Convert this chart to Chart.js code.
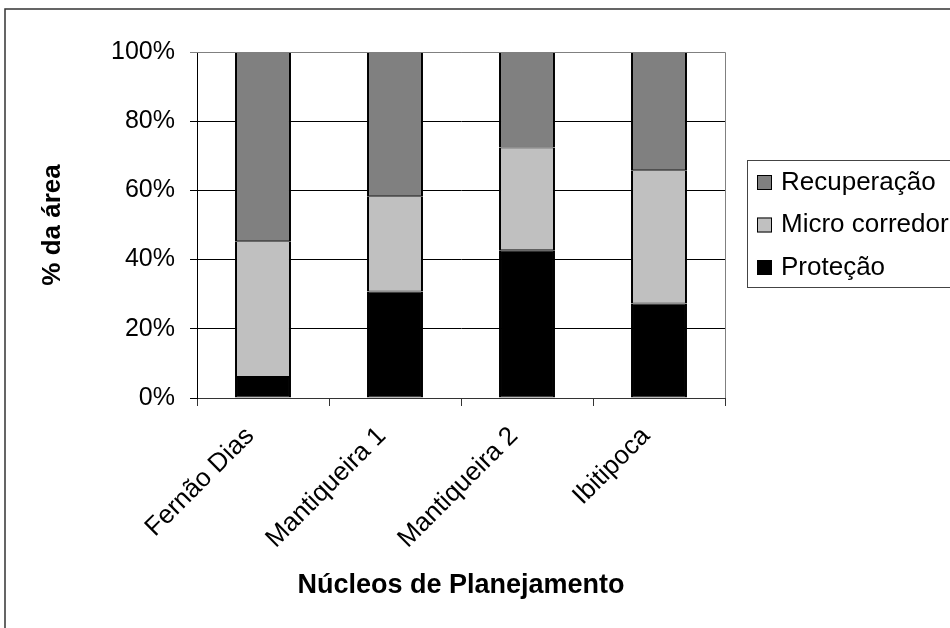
<!DOCTYPE html>
<html>
<head>
<meta charset="utf-8">
<script src="https://cdn.jsdelivr.net/npm/chart.js@4/dist/chart.umd.min.js"></script>
<style>
  html, body { margin: 0; padding: 0; background: #fff; }
  #wrap { width: 950px; height: 628px; position: relative; }
</style>
</head>
<body>
<div id="wrap"><canvas id="c" width="950" height="628"></canvas></div>
<script>
// Núcleos de planejamento and share of area (%) per class
const categories = ['Fernão Dias', 'Mantiqueira 1', 'Mantiqueira 2', 'Ibitipoca'];
const protecao = [6.1, 30.8, 42.7, 27.3];
const microCorredor = [39.2, 27.5, 29.7, 38.5];
const recuperacao = [54.7, 41.7, 27.6, 34.2];
const yTicks = [0, 20, 40, 60, 80, 100];

const FONT = 'Arial, "Liberation Sans", sans-serif';

// white page, outer frame and plot-area border
const framePlugin = {
  id: 'frame',
  beforeDraw(chart) {
    const ctx = chart.ctx;
    ctx.save();
    ctx.fillStyle = '#fff';
    ctx.fillRect(0, 0, chart.width, chart.height);
    ctx.restore();
  },
  afterDatasetsDraw(chart) {
    const { ctx, chartArea: a } = chart;
    ctx.save();
    ctx.strokeStyle = '#808080';
    ctx.lineWidth = 1;
    ctx.beginPath();
    ctx.moveTo(a.left, a.top + 0.5);
    ctx.lineTo(a.right + 0.5, a.top + 0.5);
    ctx.lineTo(a.right + 0.5, a.bottom);
    ctx.stroke();
    // outer chart frame
    ctx.strokeStyle = '#333';
    ctx.lineWidth = 1.5;
    ctx.beginPath();
    ctx.moveTo(5, chart.height + 2);
    ctx.lineTo(5, 9);
    ctx.lineTo(chart.width + 2, 9);
    ctx.stroke();
    ctx.restore();
  }
};

// boxed legend on the right, listed top series first
const boxLegend = {
  id: 'boxLegend',
  afterDraw(chart) {
    const ctx = chart.ctx;
    const items = chart.data.datasets.slice().reverse();
    const x0 = 747.5, y0 = 160.5, h = 127;
    ctx.save();
    ctx.strokeStyle = '#444';
    ctx.lineWidth = 1;
    ctx.strokeRect(x0, y0, 300, h);
    ctx.font = '26px ' + FONT;
    ctx.textBaseline = 'middle';
    ctx.textAlign = 'left';
    items.forEach((ds, i) => {
      const cy = 182.5 + i * 42.5;
      ctx.fillStyle = ds.backgroundColor;
      ctx.fillRect(757, cy - 7.5, 15, 15);
      ctx.strokeStyle = '#000';
      ctx.lineWidth = 1;
      ctx.strokeRect(757.5, cy - 7, 14, 14);
      ctx.fillStyle = '#000';
      ctx.fillText(ds.label, 781, cy);
    });
    ctx.restore();
  }
};

const barStyle = {
  borderColor: '#000',
  borderWidth: { left: 2, right: 2, top: 1, bottom: 1 },
  borderSkipped: false,
  categoryPercentage: 1,
  barPercentage: 0.424
};

new Chart(document.getElementById('c'), {
  type: 'bar',
  data: {
    labels: categories,
    datasets: [
      Object.assign({ label: 'Proteção', data: protecao, backgroundColor: '#000000' }, barStyle),
      Object.assign({ label: 'Micro corredor', data: microCorredor, backgroundColor: '#C0C0C0' }, barStyle),
      Object.assign({ label: 'Recuperação', data: recuperacao, backgroundColor: '#808080' }, barStyle)
    ]
  },
  options: {
    responsive: false,
    animation: false,
    layout: { padding: { left: 0, top: 52, right: 225, bottom: 0 } },
    plugins: {
      legend: { display: false },
      tooltip: { enabled: false }
    },
    scales: {
      x: {
        stacked: true,
        afterFit(s) { s.height = 230; },
        grid: {
          offset: true,
          drawOnChartArea: false,
          color: '#333',
          tickLength: 8
        },
        border: { color: '#333', width: 1 },
        ticks: {
          autoSkip: false,
          minRotation: 45,
          maxRotation: 45,
          padding: 15,
          labelOffset: -13,
          color: '#000',
          font: { family: FONT, size: 26 }
        },
        title: {
          display: true,
          text: 'Núcleos de Planejamento',
          color: '#000',
          font: { family: FONT, size: 27, weight: 'bold' },
          padding: { top: 0, bottom: 26 }
        }
      },
      y: {
        stacked: true,
        min: 0,
        max: 100,
        afterFit(s) { s.width = 197; },
        afterBuildTicks(s) { s.ticks = yTicks.map(v => ({ value: v })); },
        grid: {
          color: ctx => (ctx.tick && ctx.tick.value === 100 ? '#808080' : '#000'),
          lineWidth: 1,
          tickLength: 7
        },
        border: { color: '#000', width: 1 },
        ticks: {
          padding: 15,
          color: '#000',
          font: { family: FONT, size: 25 },
          callback: v => v + '%'
        },
        title: {
          display: true,
          text: '% da área',
          color: '#000',
          font: { family: FONT, size: 26, weight: 'bold' },
          padding: { top: 37, bottom: 0 }
        }
      }
    }
  },
  plugins: [framePlugin, boxLegend]
});
</script>
</body>
</html>
